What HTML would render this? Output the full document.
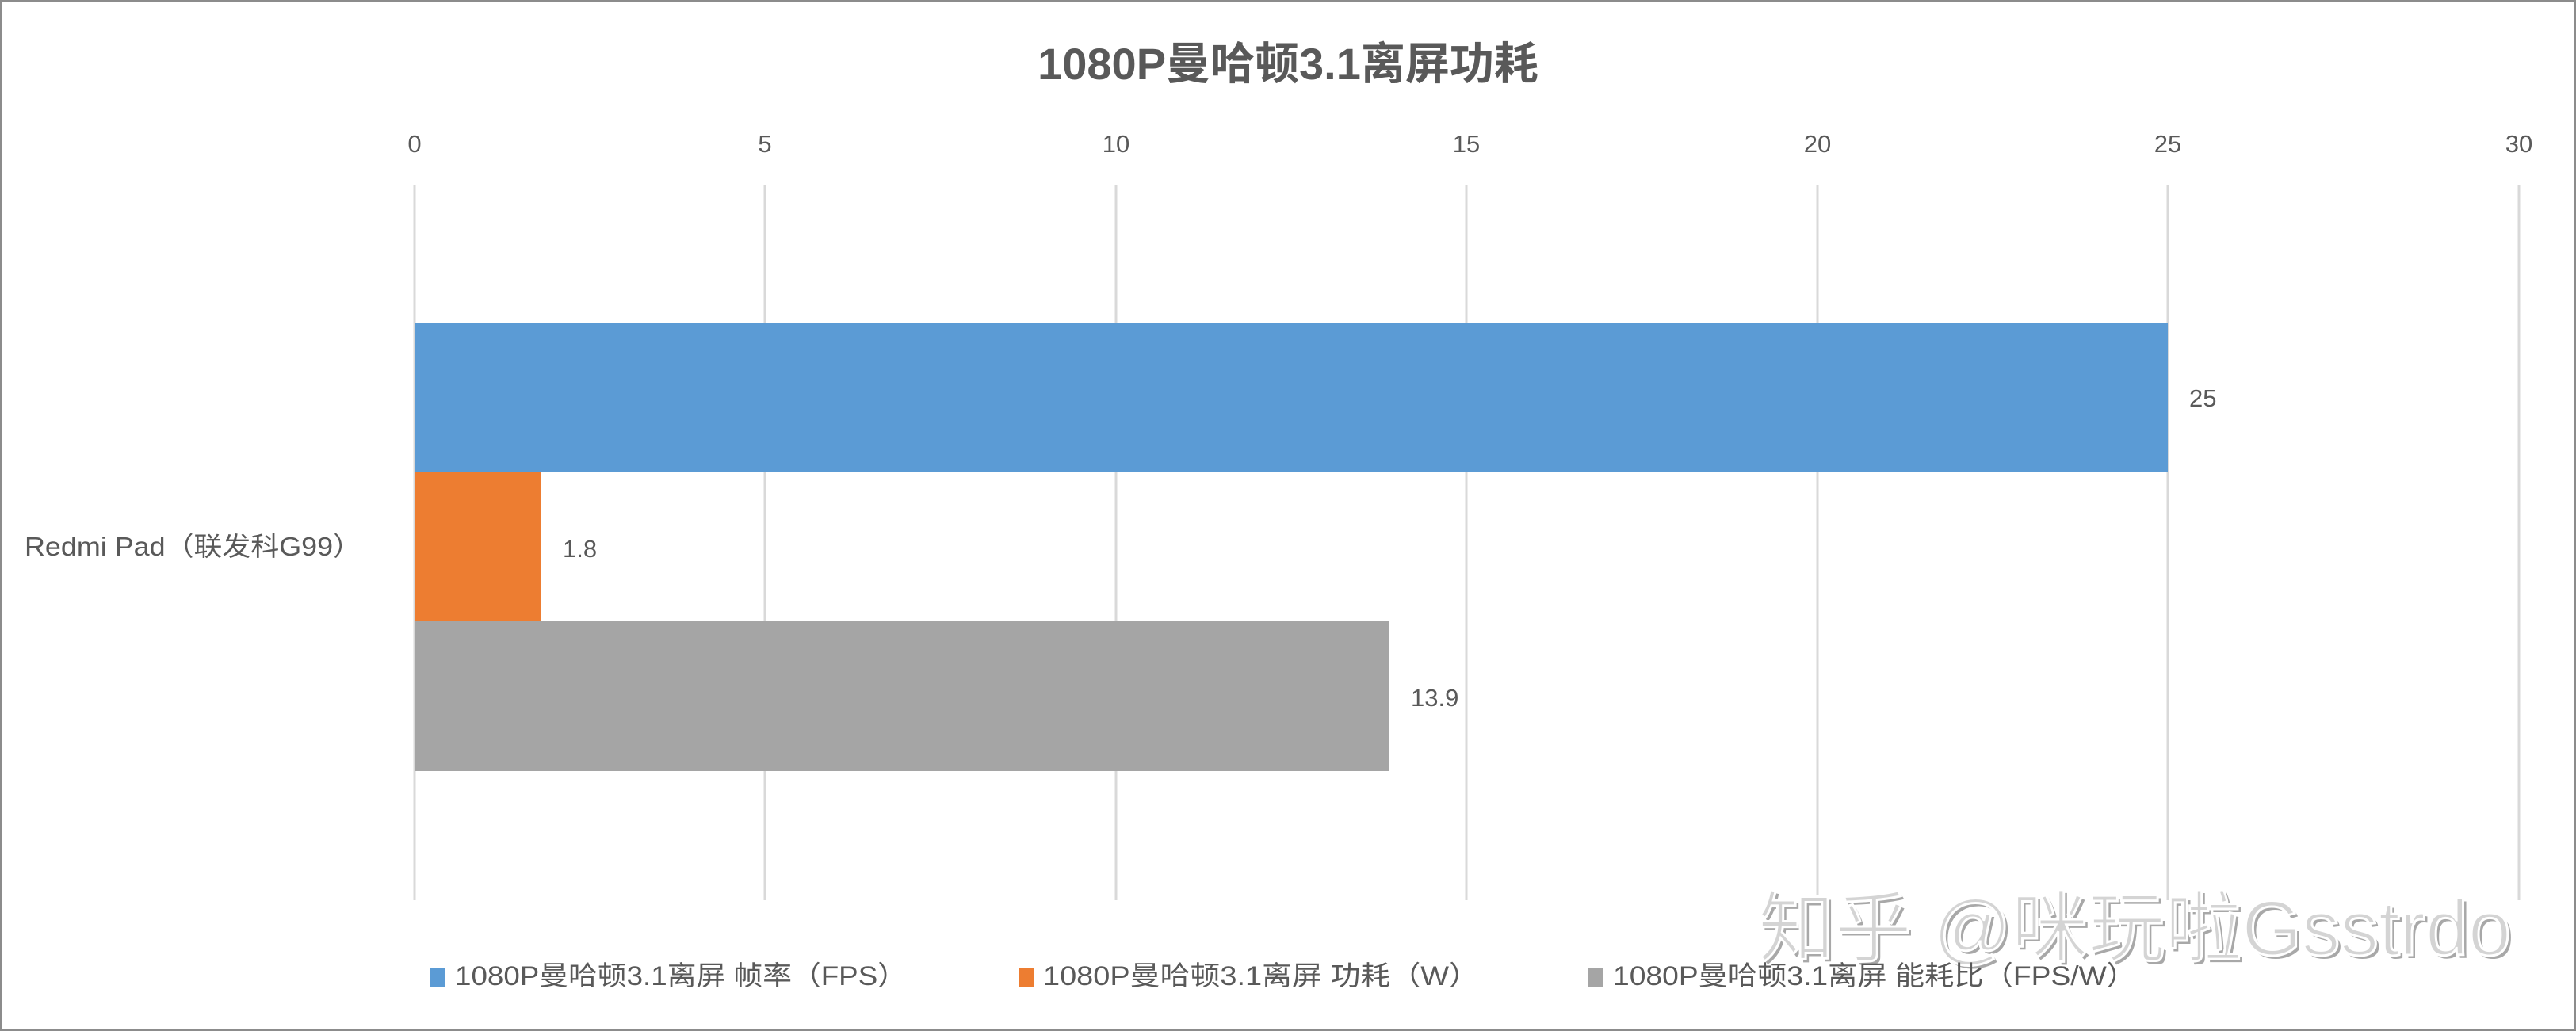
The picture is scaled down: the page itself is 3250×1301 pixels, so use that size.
<!DOCTYPE html>
<html><head><meta charset="utf-8"><style>
body{margin:0;background:#fff}
svg{display:block}
text{font-family:"Liberation Sans","Noto Sans CJK SC",sans-serif;fill:#595959}
</style></head><body>
<svg width="3250" height="1301" viewBox="0 0 3250 1301" xmlns="http://www.w3.org/2000/svg">
<rect x="1" y="1" width="3248" height="1299" fill="#fff" stroke="#8c8c8c" stroke-width="3"/>
<text x="1625" y="100" font-size="56" font-weight="bold" text-anchor="middle">1080P曼哈顿3.1离屏功耗</text>
<g stroke="#d9d9d9" stroke-width="3">
<line x1="523" y1="234" x2="523" y2="1136"/>
<line x1="965" y1="234" x2="965" y2="1136"/>
<line x1="1408" y1="234" x2="1408" y2="1136"/>
<line x1="1850" y1="234" x2="1850" y2="1136"/>
<line x1="2293" y1="234" x2="2293" y2="1136"/>
<line x1="2735" y1="234" x2="2735" y2="1136"/>
<line x1="3178" y1="234" x2="3178" y2="1136"/>
</g>
<g font-size="31" text-anchor="middle">
<text x="523" y="192">0</text><text x="965" y="192">5</text><text x="1408" y="192">10</text>
<text x="1850" y="192">15</text><text x="2293" y="192">20</text><text x="2735" y="192">25</text><text x="3178" y="192">30</text>
</g>
<rect x="523" y="407" width="2212" height="189" fill="#5b9bd5"/>
<rect x="523" y="596" width="159" height="188" fill="#ed7d31"/>
<rect x="523" y="784" width="1230" height="189" fill="#a5a5a5"/>
<g font-size="31">
<text x="2762" y="513">25</text>
<text x="710" y="703">1.8</text>
<text x="1780" y="891">13.9</text>
<text x="31" y="701" font-size="33" textLength="425" lengthAdjust="spacingAndGlyphs">Redmi Pad（联发科G99）</text>
</g>
<text x="2222" y="1209" font-size="98" fill="#a0a0a0" style="fill:#a8a8a8" textLength="950" lengthAdjust="spacingAndGlyphs">知乎 @咪玩啦Gsstrdo</text>
<text x="2218" y="1205" font-size="98" stroke="#fff" stroke-width="3" style="fill:#d4d4d4" textLength="950" lengthAdjust="spacingAndGlyphs">知乎 @咪玩啦Gsstrdo</text>
<g font-size="34">
<rect x="543" y="1221" width="19" height="24" fill="#5b9bd5"/>
<text x="574" y="1243" textLength="570" lengthAdjust="spacingAndGlyphs">1080P曼哈顿3.1离屏 帧率（FPS）</text>
<rect x="1285" y="1221" width="19" height="24" fill="#ed7d31"/>
<text x="1316" y="1243" textLength="550" lengthAdjust="spacingAndGlyphs">1080P曼哈顿3.1离屏 功耗（W）</text>
<rect x="2004" y="1221" width="19" height="24" fill="#a5a5a5"/>
<text x="2035" y="1243" textLength="660" lengthAdjust="spacingAndGlyphs">1080P曼哈顿3.1离屏 能耗比（FPS/W）</text>
</g>
</svg>
</body></html>
